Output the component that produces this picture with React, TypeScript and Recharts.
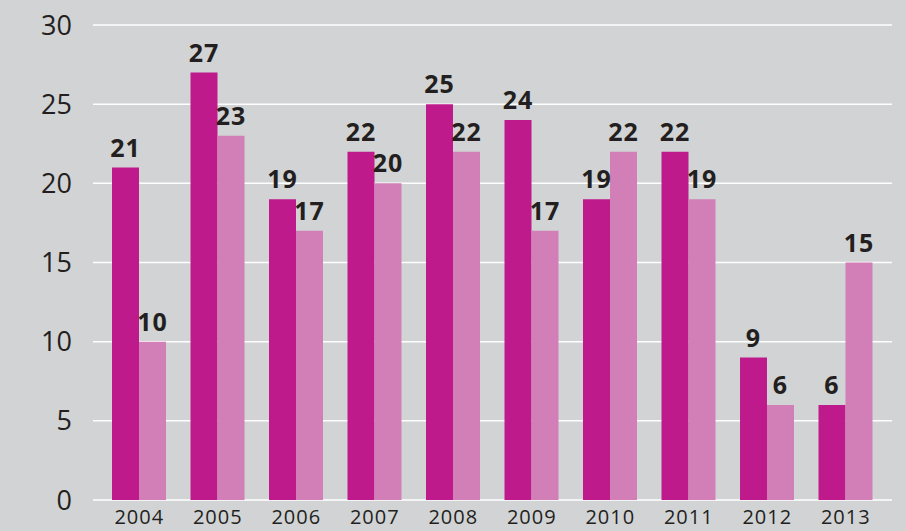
import React from "react";
import { BarChart, Bar, XAxis, YAxis, CartesianGrid, LabelList } from "recharts";

const years = ["2004", "2005", "2006", "2007", "2008", "2009", "2010", "2011", "2012", "2013"];
const seriesA = [21, 27, 19, 22, 25, 24, 19, 22, 9, 6];
const seriesB = [10, 23, 17, 20, 22, 17, 22, 19, 6, 15];
const yTicks = [0, 5, 10, 15, 20, 25, 30];

const data = years.map((y, i) => ({ year: y, a: seriesA[i], b: seriesB[i] }));

const FONT = "'Open Sans', sans-serif";
const TEXT = "#231f20";

export default function App() {
  return (
    <div style={{ position: "fixed", left: 0, top: 0, width: 906, height: 531, background: "#d1d3d4" }}>
      <BarChart
        width={906}
        height={531}
        data={data}
        margin={{ top: 25, right: 14, bottom: 0, left: 0 }}
        barGap={0}
        barSize={27}
      >
        <CartesianGrid vertical={false} stroke="#ffffff" strokeWidth={1.5} />
        <XAxis
          dataKey="year"
          height={31}
          axisLine={false}
          tickLine={false}
          tickSize={0}
          tickMargin={10}
          padding={{ left: 7, right: 7 }}
          tick={{ fill: TEXT, fontSize: 20, fontFamily: FONT, letterSpacing: 1 }}
          interval={0}
        />
        <YAxis
          width={93}
          domain={[0, 30]}
          ticks={yTicks}
          axisLine={false}
          tickLine={false}
          tickSize={0}
          tickMargin={21}
          tick={{ fill: TEXT, fontSize: 27, fontFamily: FONT }}
        />
        <Bar dataKey="a" fill="#be1a8c" isAnimationActive={false}>
          <LabelList
            dataKey="a"
            position="top"
            offset={11}
            style={{ fill: TEXT, fontSize: 25, fontWeight: 700, fontFamily: FONT, letterSpacing: 1 }}
          />
        </Bar>
        <Bar dataKey="b" fill="#d17fb6" isAnimationActive={false}>
          <LabelList
            dataKey="b"
            position="top"
            offset={11}
            style={{ fill: TEXT, fontSize: 25, fontWeight: 700, fontFamily: FONT, letterSpacing: 1 }}
          />
        </Bar>
      </BarChart>
    </div>
  );
}
